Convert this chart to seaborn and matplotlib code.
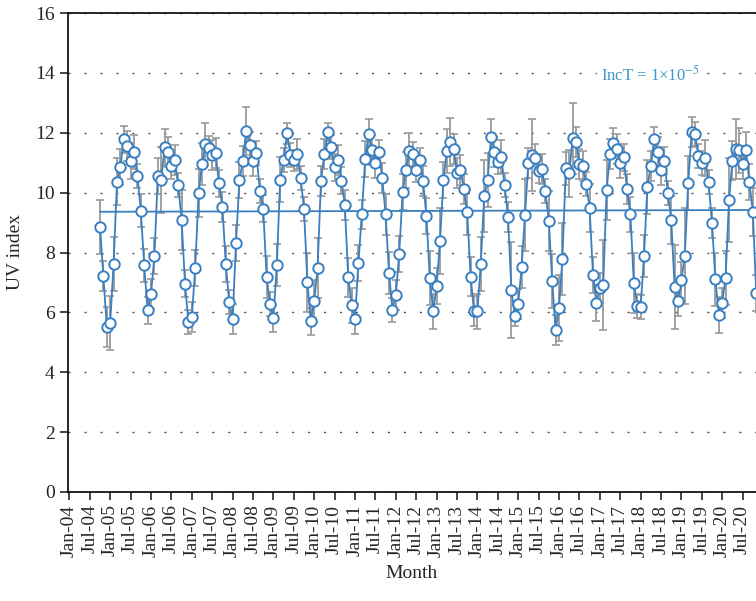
import numpy as np
import pandas as pd
import matplotlib
matplotlib.use("Agg")
import matplotlib.pyplot as plt
import seaborn as sns

# Monthly mean UV index, Oct 2004 onward
uv_values = [
   8.86, 7.21, 5.52, 5.65, 7.62, 10.37, 10.85, 11.79, 11.55, 11.07, 11.36, 10.57,
   9.40, 7.58, 6.07, 6.62, 7.87, 10.57, 10.42, 11.52, 11.36, 10.89, 11.08, 10.24,
   9.10, 6.95, 5.68, 5.83, 7.47, 9.99, 10.95, 11.63, 11.50, 11.26, 11.31, 10.31,
   9.53, 7.61, 6.34, 5.78, 8.32, 10.41, 11.06, 12.07, 11.59, 11.04, 11.33, 10.06,
   9.46, 7.19, 6.28, 5.81, 7.57, 10.43, 11.08, 11.99, 11.27, 11.08, 11.30, 10.49,
   9.45, 7.00, 5.71, 6.39, 7.48, 10.40, 11.30, 12.03, 11.51, 10.85, 11.10, 10.40,
   9.59, 7.18, 6.23, 5.79, 7.64, 9.27, 11.12, 11.96, 11.41, 10.98, 11.35, 10.50,
   9.27, 7.33, 6.08, 6.58, 7.94, 10.03, 10.77, 11.39, 11.28, 10.77, 11.08, 10.40,
   9.23, 7.14, 6.03, 6.88, 8.38, 10.42, 11.39, 11.70, 11.47, 10.64, 10.77, 10.13,
   9.34, 7.19, 6.05, 6.03, 7.63, 9.89, 10.42, 11.86, 11.36, 11.01, 11.20, 10.24,
   9.20, 6.75, 5.88, 6.27, 7.51, 9.24, 11.00, 11.25, 11.14, 10.73, 10.79, 10.04,
   9.05, 7.05, 5.41, 6.16, 7.79, 10.81, 10.64, 11.81, 11.70, 10.97, 10.89, 10.28,
   9.48, 7.24, 6.32, 6.80, 6.92, 10.08, 11.30, 11.67, 11.47, 10.98, 11.18, 10.12,
   9.27, 6.99, 6.22, 6.17, 7.88, 10.20, 10.90, 11.78, 11.36, 10.77, 11.06, 10.00,
   9.10, 6.86, 6.39, 7.09, 7.89, 10.32, 12.01, 11.96, 11.21, 10.98, 11.16, 10.34,
   8.97, 7.10, 5.92, 6.32, 7.16, 9.75, 11.06, 11.45, 11.42, 10.95, 11.42, 10.35,
   9.36, 6.64,
]

# standard deviation of each month
uv_errors = [
   0.90, 0.50, 0.67, 0.90, 0.90, 0.78, 0.60, 0.45, 0.50, 0.60, 0.57, 0.40,
   0.55, 0.55, 0.45, 0.50, 0.60, 0.60, 1.10, 0.62, 0.50, 0.45, 0.50, 0.40,
   1.00, 0.45, 0.40, 0.50, 0.60, 0.80, 0.70, 0.70, 0.40, 0.50, 0.50, 0.45,
   0.50, 0.60, 0.40, 0.50, 0.60, 0.60, 0.50, 0.80, 0.45, 0.50, 0.40, 0.40,
   0.45, 0.70, 0.40, 0.45, 0.70, 0.75, 0.40, 0.35, 0.40, 0.35, 0.50, 0.40,
   0.40, 1.00, 0.45, 0.70, 1.00, 0.50, 0.50, 0.30, 0.40, 0.45, 0.50, 0.45,
   0.50, 0.65, 0.60, 0.50, 0.60, 0.50, 0.60, 0.50, 0.50, 0.50, 0.40, 0.50,
   0.70, 0.70, 0.40, 0.50, 0.60, 0.60, 0.60, 0.60, 0.40, 0.40, 0.40, 0.50,
   0.60, 0.90, 0.60, 0.60, 1.10, 0.60, 0.75, 0.80, 0.50, 0.50, 0.50, 0.50,
   0.75, 0.65, 0.50, 0.60, 0.90, 1.20, 0.90, 0.60, 0.50, 0.40, 0.55, 0.40,
   0.50, 1.60, 0.35, 0.50, 0.70, 1.20, 0.50, 1.20, 0.50, 0.40, 0.50, 0.40,
   1.00, 0.90, 0.50, 1.10, 1.20, 0.55, 0.80, 1.20, 0.50, 0.50, 0.50, 0.40,
   0.80, 0.60, 0.60, 0.50, 1.50, 1.00, 0.50, 0.50, 0.50, 0.50, 0.45, 0.50,
   0.60, 1.00, 0.40, 0.40, 0.70, 0.90, 0.50, 0.40, 0.50, 0.50, 0.45, 0.40,
   0.80, 1.40, 0.50, 0.60, 1.60, 0.90, 0.50, 0.40, 0.40, 0.40, 0.60, 0.40,
   0.50, 0.90, 0.60, 0.50, 0.90, 1.40, 0.65, 1.00, 0.75, 0.50, 0.60, 0.60,
   0.80, 0.60,
]

# linear trend line, start / end value
trend_values = [9.36, 9.42]
trend_label = "IncT = 1\u00d710$^{-5}$"

tick_labels = []
for yr in range(4, 21):
   tick_labels.append(f"Jan-{yr:02d}")
   tick_labels.append(f"Jul-{yr:02d}")

# months counted from Jan 2004
start_month = 9
df = pd.DataFrame({"mes": np.arange(len(uv_values)) + start_month,
                   "uv": uv_values, "err": uv_errors})

sns.set_theme(style="ticks")
plt.rcParams["font.family"] = ["Liberation Serif", "DejaVu Serif"]
plt.rcParams["mathtext.fontset"] = "stix"

fig = plt.figure(figsize=(7.56, 6.01), dpi=100)
ax = fig.add_axes([68 / 756, 109 / 601, 688 / 756, 479 / 601])

ax.errorbar(df["mes"], df["uv"], yerr=df["err"], fmt="none", ecolor="#9a9a9a",
            elinewidth=1.3, capsize=3, capthick=1.2, zorder=2)
ax.plot([df["mes"].iloc[0], df["mes"].iloc[-1]], trend_values, color="#3a7fc1",
        linewidth=1.3, zorder=3)
sns.lineplot(data=df, x="mes", y="uv", ax=ax, color="#3a7fc1", linewidth=1.3,
             marker="o", markersize=7.5, markerfacecolor="white",
             markeredgecolor="#3a7fc1", markeredgewidth=1.4, zorder=4)

ax.text(156.4, 13.93, trend_label, color="#3d97c9", fontsize=12,
        ha="left", va="center", zorder=5,
        bbox=dict(facecolor="white", edgecolor="none", pad=3))

ax.set_xlim(-0.41, 201.94)
ax.set_ylim(0, 16)
ax.set_xticks(np.arange(0, len(tick_labels) * 6, 6))
ax.set_xticklabels(tick_labels, rotation=90, fontsize=14)
ax.set_yticks(np.arange(0, 17, 2))
ax.tick_params(axis="y", labelsize=14, length=6, width=1.2, direction="out")
ax.tick_params(axis="x", length=6, width=1.2, direction="out", pad=3)
ax.yaxis.grid(True, linestyle=(0, (1.5, 10)), color="#555555", linewidth=1)
ax.set_axisbelow(True)

for side in ["left", "bottom", "top"]:
   ax.spines[side].set_color("black")
   ax.spines[side].set_linewidth(1.2)
ax.spines["right"].set_visible(False)

ax.set_xlabel("Month", fontsize=14, labelpad=6)
ax.set_ylabel("UV index", fontsize=14, labelpad=8)

fig.savefig("out.png", dpi=100)
